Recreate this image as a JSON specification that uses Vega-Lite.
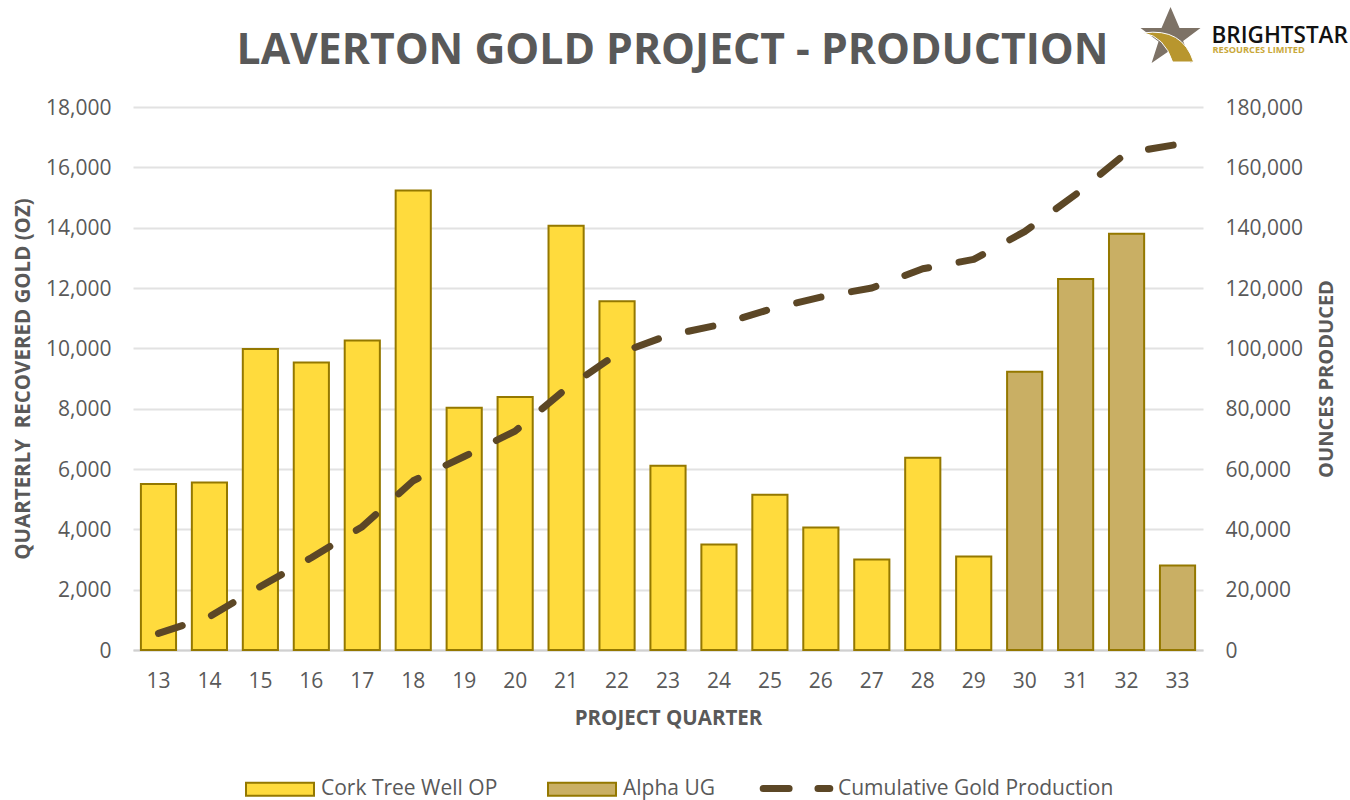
{
"$schema":"https://vega.github.io/schema/vega-lite/v6.json",
"width":1070,"height":543,
"autosize":{"type":"none"},
"padding":{"left":133,"top":107,"right":147,"bottom":150},
"background":"white",
"title":{"text":"LAVERTON GOLD PROJECT - PRODUCTION","font":"Open Sans","fontSize":42.7,"fontWeight":"bold","color":"#595959","anchor":"start","dx":223,"offset":-66},
"config":{"view":{"stroke":null},"text":{"font":"Open Sans"}},
"data":{"values":[
{"quarter":"13","gold":5500,"source":"Cork Tree Well OP","cumulative":5500},
{"quarter":"14","gold":5550,"source":"Cork Tree Well OP","cumulative":11050},
{"quarter":"15","gold":9980,"source":"Cork Tree Well OP","cumulative":21050},
{"quarter":"16","gold":9530,"source":"Cork Tree Well OP","cumulative":30600},
{"quarter":"17","gold":10260,"source":"Cork Tree Well OP","cumulative":40880},
{"quarter":"18","gold":15230,"source":"Cork Tree Well OP","cumulative":56100},
{"quarter":"19","gold":8030,"source":"Cork Tree Well OP","cumulative":64150},
{"quarter":"20","gold":8390,"source":"Cork Tree Well OP","cumulative":72550},
{"quarter":"21","gold":14060,"source":"Cork Tree Well OP","cumulative":86600},
{"quarter":"22","gold":11560,"source":"Cork Tree Well OP","cumulative":98150},
{"quarter":"23","gold":6110,"source":"Cork Tree Well OP","cumulative":104270},
{"quarter":"24","gold":3500,"source":"Cork Tree Well OP","cumulative":107770},
{"quarter":"25","gold":5150,"source":"Cork Tree Well OP","cumulative":112940},
{"quarter":"26","gold":4060,"source":"Cork Tree Well OP","cumulative":117000},
{"quarter":"27","gold":3000,"source":"Cork Tree Well OP","cumulative":120000},
{"quarter":"28","gold":6370,"source":"Cork Tree Well OP","cumulative":126380},
{"quarter":"29","gold":3100,"source":"Cork Tree Well OP","cumulative":129480},
{"quarter":"30","gold":9220,"source":"Alpha UG","cumulative":138700},
{"quarter":"31","gold":12300,"source":"Alpha UG","cumulative":151000},
{"quarter":"32","gold":13800,"source":"Alpha UG","cumulative":164800},
{"quarter":"33","gold":2800,"source":"Alpha UG","cumulative":167600}
]},
"encoding":{"x":{"field":"quarter","type":"ordinal","scale":{"paddingInner":0.31,"paddingOuter":0.155},
"axis":{"title":"PROJECT QUARTER","labelAngle":0,"labelFont":"Open Sans","labelFontSize":21,"labelColor":"#595959","labelPadding":20,"ticks":false,"domainColor":"#d0d0d0","domainWidth":2,"titleFont":"Open Sans","titleFontSize":20.5,"titleFontWeight":"bold","titleColor":"#595959","titlePadding":17}}},
"layer":[
{"mark":{"type":"bar","stroke":"#947800","strokeWidth":2},
"encoding":{"y":{"field":"gold","type":"quantitative","scale":{"domain":[0,18000]},
"axis":{"values":[0,2000,4000,6000,8000,10000,12000,14000,16000,18000],"format":",.0f","title":"QUARTERLY \u00a0RECOVERED GOLD (OZ)","labelFont":"Open Sans","labelFontSize":21,"labelColor":"#595959","labelPadding":22,"labelOffset":1,"ticks":false,"domain":false,"gridColor":"#e2e2e2","gridWidth":2,"titleFont":"Open Sans","titleFontSize":20.5,"titleFontWeight":"bold","titleColor":"#595959","titlePadding":12}},
"fill":{"field":"source","type":"nominal","scale":{"domain":["Cork Tree Well OP","Alpha UG"],"range":["#FFDB3D","#C9AF64"]},
"legend":{"title":null,"orient":"none","legendX":112,"legendY":647,"direction":"horizontal","columns":2,"columnPadding":46,"symbolType":"M-1,-0.19H1V0.19H-1Z","symbolSize":4624,"symbolStrokeColor":"#947800","symbolStrokeWidth":2,"labelFont":"Open Sans","labelFontSize":21,"labelColor":"#595959","labelOffset":6,"labelLimit":400}}}},
{"mark":{"type":"line","strokeWidth":7,"strokeDash":[25,31],"strokeCap":"round","strokeJoin":"round"},
"encoding":{"y":{"field":"cumulative","type":"quantitative","scale":{"domain":[0,180000]},
"axis":{"orient":"right","values":[0,20000,40000,60000,80000,100000,120000,140000,160000,180000],"format":",.0f","title":"OUNCES PRODUCED","titleAngle":270,"grid":false,"labelFont":"Open Sans","labelFontSize":21,"labelColor":"#595959","labelPadding":22,"labelOffset":1,"ticks":false,"domain":false,"titleFont":"Open Sans","titleFontSize":20,"titleFontWeight":"bold","titleColor":"#595959","titlePadding":34}},
"stroke":{"datum":"Cumulative Gold Production","scale":{"domain":["Cumulative Gold Production"],"range":["#5C4726"]},
"legend":{"title":null,"orient":"none","legendX":623,"legendY":641,"symbolType":"M-0.9,0H-0.2M0.58,0H0.9","symbolSize":5476,"symbolStrokeWidth":7,"symbolDash":[1000,0],"labelFont":"Open Sans","labelFontSize":21,"labelColor":"#595959","labelOffset":1,"labelLimit":400,"encode":{"symbols":{"update":{"strokeCap":{"value":"round"}}}}}}}},
{"data":{"values":[{"q":"33","p":1}]},
"mark":{"type":"point","filled":true,"color":"#7D7266","opacity":1,"size":3600,"shape":"M0,-0.93L0.3,-0.23L1,-0.23L0.42,0.2L0.7,0.93L0,0.5L-0.63,0.93L-0.4,0.22L-1,-0.23L-0.3,-0.23Z","xOffset":-7,"yOffset":-72},
"encoding":{"x":{"field":"q","type":"ordinal"},"y":{"field":"p","type":"quantitative","scale":{"domain":[0,1]},"axis":null}}},
{"data":{"values":[{"q":"33","p":1}]},
"mark":{"type":"point","filled":true,"color":"#B8962E","stroke":"white","strokeWidth":1,"opacity":1,"size":3600,"shape":"M-0.9,-0.07Q0.4,-0.25 0.77,0.9L0.07,0.9Q-0.2,0.05 -0.9,-0.07Z","xOffset":-7,"yOffset":-72},
"encoding":{"x":{"field":"q","type":"ordinal"},"y":{"field":"p","type":"quantitative","scale":{"domain":[0,1]},"axis":null}}},
{"data":{"values":[{"q":"33","p":1,"t":"BRIGHTSTAR"}]},
"mark":{"type":"text","align":"left","baseline":"middle","font":"Open Sans","fontSize":22.5,"fontWeight":600,"color":"#111111","dx":34,"dy":-71},
"encoding":{"x":{"field":"q","type":"ordinal"},"y":{"field":"p","type":"quantitative","scale":{"domain":[0,1]},"axis":null},"text":{"field":"t"}}},
{"data":{"values":[{"q":"33","p":1,"t":"RESOURCES LIMITED"}]},
"mark":{"type":"text","align":"left","baseline":"middle","font":"Open Sans","fontSize":9.2,"fontWeight":"bold","color":"#C9A83A","dx":35,"dy":-57},
"encoding":{"x":{"field":"q","type":"ordinal"},"y":{"field":"p","type":"quantitative","scale":{"domain":[0,1]},"axis":null},"text":{"field":"t"}}}
],
"resolve":{"scale":{"y":"independent"},"axis":{"y":"independent"}}
}
